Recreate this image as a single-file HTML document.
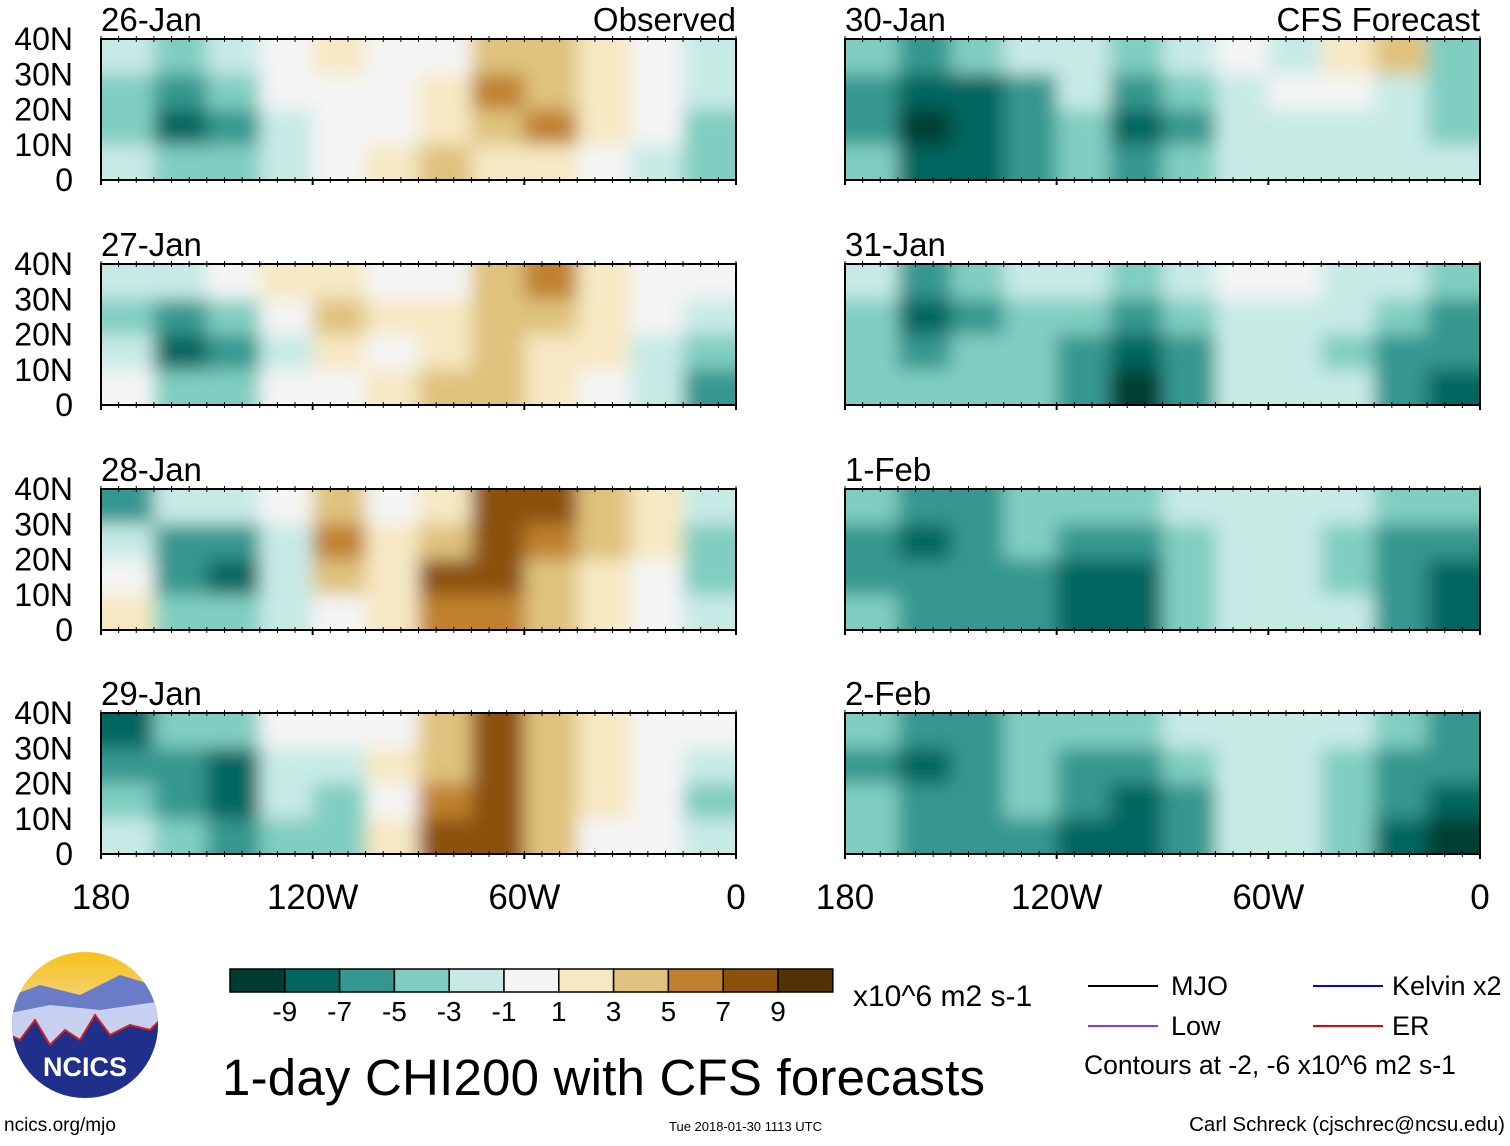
<!DOCTYPE html>
<html><head><meta charset="utf-8"><style>
body{margin:0;background:#fff;width:1510px;height:1141px;overflow:hidden}
svg text{font-family:"Liberation Sans",sans-serif;fill:#000}
</style></head><body>
<svg id="s" width="1510" height="1141" xmlns="http://www.w3.org/2000/svg">
<defs>
<filter id="bl" x="0" y="0" width="1" height="1"><feGaussianBlur stdDeviation="9"/></filter>
<linearGradient id="sky" x1="0" y1="0" x2="0" y2="1"><stop offset="0" stop-color="#f7c21a"/><stop offset="0.35" stop-color="#f3d27a"/><stop offset="0.5" stop-color="#8fa3d6"/><stop offset="1" stop-color="#2a3f9a"/></linearGradient>
<clipPath id="lc"><circle cx="85" cy="1025" r="73"/></clipPath>
</defs>
<g id="panels"></g>
<g id="cbar"></g>
<text x="853" y="1006" font-size="30">x10^6 m2 s-1</text>
<text x="222" y="1095" font-size="51" textLength="763">1-day CHI200 with CFS forecasts</text>
<g>
<line x1="1088" y1="986" x2="1158" y2="986" stroke="#000" stroke-width="2"/><text x="1171" y="995" font-size="27">MJO</text>
<line x1="1313" y1="986" x2="1383" y2="986" stroke="#0000ff" stroke-width="2"/><text x="1392" y="995" font-size="27">Kelvin x2</text>
<line x1="1088" y1="1026" x2="1158" y2="1026" stroke="#a030e0" stroke-width="2"/><text x="1171" y="1035" font-size="27">Low</text>
<line x1="1313" y1="1026" x2="1383" y2="1026" stroke="#ee0000" stroke-width="2"/><text x="1392" y="1035" font-size="27">ER</text>
<text x="1084" y="1074" font-size="26.5">Contours at -2, -6 x10^6 m2 s-1</text>
</g>
<g>
<circle cx="85" cy="1025" r="73" fill="url(#sky)"/>
<g clip-path="url(#lc)">
<path d="M0 1000 L40 985 L80 995 L120 975 L170 990 L170 1110 L0 1110Z" fill="#6a7cc8"/>
<path d="M0 1015 L50 1005 L100 1010 L170 1000 L170 1110 L0 1110Z" fill="#c8d0ef"/>
<path d="M0 1030 L20 1040 L35 1020 L50 1045 L65 1030 L80 1040 L95 1015 L110 1035 L130 1025 L150 1030 L170 1010 L170 1110 L0 1110Z" fill="#1f2f8a" stroke="#d02020" stroke-width="2"/>
</g>
<text x="85" y="1076" font-size="27" font-weight="bold" text-anchor="middle" style="fill:#fff">NCICS</text>
</g>
<text x="4" y="1131" font-size="19">ncics.org/mjo</text>
<text x="669" y="1131" font-size="13">Tue 2018-01-30 1113 UTC</text>
<text x="1505" y="1131" font-size="20.5" text-anchor="end">Carl Schreck (cjschrec@ncsu.edu)</text>
</svg>
<script>
const colors=["#003c30","#01665e","#35978f","#80cdc1","#c7eae5","#f5f5f5","#f6e8c3","#dfc27d","#bf812d","#8c510a","#543005"];
const cbarLabels=["-9","-7","-5","-3","-1","1","3","5","7","9"];
const panelDates=["26-Jan","27-Jan","28-Jan","29-Jan","30-Jan","31-Jan","1-Feb","2-Feb"];
const latTicks=["40N","30N","20N","10N","0"];
const lonTicks=["180","120W","60W","0"];
const d26=[[-2,-4,-2,0,2,0,0,4,4,2,0,-2],[-4,-6,-4,0,0,0,2,6,4,2,0,-2],[-4,-8,-6,-2,0,0,2,4,6,2,0,-4],[-2,-4,-4,-2,0,2,4,2,2,0,-2,-4]];
const d27=[[-2,-2,0,2,2,0,0,4,6,2,0,0],[-4,-6,-4,0,4,2,2,4,4,2,0,-2],[-2,-8,-6,-2,2,0,2,4,2,2,-2,-4],[0,-4,-4,0,0,2,4,4,2,0,-2,-6]];
const d28=[[-6,-2,-2,0,4,0,2,8,8,4,2,-2],[-2,-6,-6,-2,6,2,4,8,6,4,2,-4],[0,-6,-8,-2,4,2,8,8,4,2,0,-4],[2,-4,-4,-2,0,2,6,6,4,2,0,-2]];
const d29=[[-8,-4,-4,0,0,0,4,8,4,2,0,0],[-6,-6,-8,-2,-2,2,4,8,4,2,0,-2],[-4,-6,-8,-2,-4,0,6,8,4,2,0,-4],[-2,-4,-6,-4,-4,2,8,8,4,0,0,-2]];
const d30=[[-4,-6,-4,-2,-2,-4,-2,0,-2,2,4,-4],[-6,-8,-8,-6,-2,-6,-4,-2,0,0,-2,-4],[-6,-10,-8,-6,-4,-8,-6,-2,-2,-2,-2,-4],[-4,-8,-8,-6,-4,-6,-4,-2,-2,-2,-2,-2]];
const d31=[[-2,-6,-4,-2,-2,-4,-2,0,0,-2,-2,-4],[-4,-8,-6,-4,-4,-6,-4,-2,-2,-2,-4,-6],[-4,-6,-4,-4,-6,-8,-6,-2,-2,-4,-6,-6],[-4,-4,-4,-4,-6,-10,-6,-2,-2,-2,-6,-8]];
const d01=[[-4,-6,-6,-4,-4,-4,-2,-2,-2,-2,-4,-4],[-6,-8,-6,-4,-6,-6,-4,-2,-2,-4,-6,-6],[-6,-6,-6,-6,-8,-8,-4,-2,-2,-4,-6,-8],[-4,-6,-6,-6,-8,-8,-4,-2,-2,-2,-6,-8]];
const d02=[[-4,-6,-6,-4,-4,-4,-2,-2,-2,-2,-4,-6],[-6,-8,-6,-4,-6,-6,-4,-2,-2,-4,-6,-6],[-4,-6,-6,-4,-6,-8,-6,-2,-2,-4,-6,-8],[-4,-6,-6,-6,-8,-8,-6,-2,-2,-4,-8,-10]];
const panelData=[d26,d27,d28,d29,d30,d31,d01,d02];
const NS="http://www.w3.org/2000/svg";
function mk(tag,attrs,parent){const e=document.createElementNS(NS,tag);for(const k in attrs)e.setAttribute(k,attrs[k]);parent.appendChild(e);return e;}
function colorOf(v){let i=Math.round(v/2)+5;i=Math.max(0,Math.min(10,i));return colors[i];}
const W=635,H=141,colX=[101,845],rowY=[39,264,489,713];
const xScale=(lon,x0)=>x0+(180-lon)/180*W;
const yScale=(lat,y0)=>y0+(40-lat)/40*H;
const P=document.getElementById('panels');
panelData.forEach((grid,p)=>{
  const x0=colX[p<4?0:1],y0=rowY[p%4];
  const g=mk('g',{},P);
  
  
  const cp=mk('clipPath',{id:'cp'+p},g);mk('rect',{x:x0,y:y0,width:W,height:H},cp);
  const cg=mk('g',{'clip-path':'url(#cp'+p+')'},g);
  const inner=mk('g',{filter:'url(#bl)'},cg);
  mk('rect',{x:x0-30,y:y0-30,width:W+60,height:H+60,fill:'#f5f5f5'},inner);
  grid.forEach((row,r)=>row.forEach((v,c)=>{
    const lonL=180-c*15,latT=40-r*10;
    let x=xScale(lonL,x0),y=yScale(latT,y0),w=xScale(lonL-15,x0)-x,h=yScale(latT-10,y0)-y;
    if(c==0){x-=30;w+=30}if(c==11)w+=30;if(r==0){y-=30;h+=30}if(r==3)h+=30;
    const cell=mk('rect',{x:x,y:y,width:w+1,height:h+1,fill:colorOf(v)},inner);
    
    
  }));
  mk('rect',{x:x0,y:y0,width:W,height:H,fill:'none',stroke:'#000','stroke-width':2},g);
  for(let k=0;k<=36;k++){const x=x0+k*W/36;mk('line',{x1:x,y1:y0-3,x2:x,y2:y0+3,stroke:'#000'},g);mk('line',{x1:x,y1:y0+H-3,x2:x,y2:y0+H+3,stroke:'#000'},g);}
  lonTicks.forEach((t,i)=>{const x=x0+i*W/3;mk('line',{x1:x,y1:y0+H,x2:x,y2:y0+H+5,stroke:'#000','stroke-width':2},g);});
  const tt=mk('text',{x:x0,y:y0-8,'font-size':33},g);tt.textContent=panelDates[p];
  
  if(p==0||p==4){const rt=mk('text',{x:x0+W,y:y0-8,'font-size':33,'text-anchor':'end'},g);rt.textContent=p==0?'Observed':'CFS Forecast';
    }
  if(p<4){latTicks.forEach((t,i)=>{const y=yScale(40-i*10,y0);const tx=mk('text',{x:73,y:y+11,'font-size':32,'text-anchor':'end'},g);tx.textContent=t;
    });}
  if(p%4==3){lonTicks.forEach((t,i)=>{const tx=mk('text',{x:x0+i*W/3,y:y0+H+55,'font-size':35,'text-anchor':'middle'},g);tx.textContent=t;
    });}
});
const C=document.getElementById('cbar');
colors.forEach((c,i)=>{const r=mk('rect',{x:230+i*54.8,y:969,width:54.8,height:23,fill:c,stroke:'#000','stroke-width':1.5},C);
  });
cbarLabels.forEach((t,i)=>{const tx=mk('text',{x:230+(i+1)*54.8,y:1021,'font-size':28,'text-anchor':'middle'},C);tx.textContent=t;
  });
</script>
</body></html>
